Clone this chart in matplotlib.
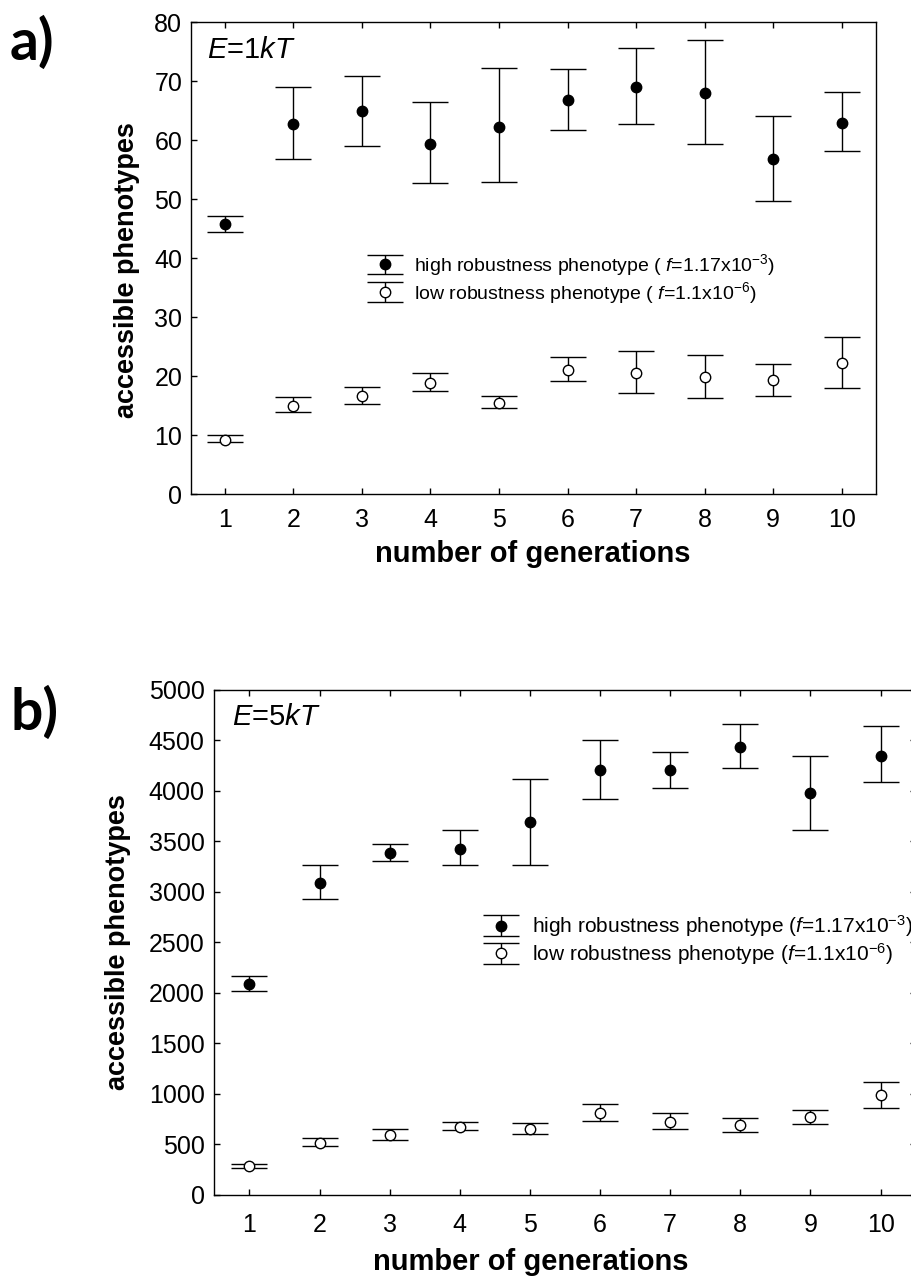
import matplotlib
matplotlib.use('Agg')
import matplotlib.pyplot as plt

plt.rcParams['font.family'] = ['Liberation Sans', 'DejaVu Sans']
plt.rcParams['mathtext.fontset'] = 'custom'
plt.rcParams['mathtext.rm'] = 'Liberation Sans'
plt.rcParams['mathtext.it'] = 'Liberation Sans:italic'
plt.rcParams['mathtext.bf'] = 'Liberation Sans:bold'

generations = [1, 2, 3, 4, 5, 6, 7, 8, 9, 10]

# Panel a (E = 1kT)
a_high = [45.8, 62.8, 64.9, 59.3, 62.3, 66.8, 69.0, 68.1, 56.8, 63.0]
a_high_lo = [44.5, 56.9, 59.0, 52.7, 52.9, 61.8, 62.8, 59.4, 49.8, 58.2]
a_high_hi = [47.1, 69.1, 70.9, 66.5, 72.2, 72.1, 75.6, 77.0, 64.1, 68.2]
a_low = [9.2, 15.0, 16.7, 18.9, 15.4, 21.0, 20.6, 19.9, 19.3, 22.3]
a_low_lo = [8.8, 13.9, 15.3, 17.5, 14.6, 19.2, 17.2, 16.3, 16.6, 18.1]
a_low_hi = [10.0, 16.5, 18.2, 20.5, 16.6, 23.2, 24.3, 23.7, 22.1, 26.7]

# Panel b (E = 5kT)
b_high = [2085, 3085, 3390, 3430, 3690, 4205, 4205, 4440, 3980, 4350]
b_high_lo = [2020, 2935, 3310, 3270, 3270, 3920, 4030, 4225, 3610, 4090]
b_high_hi = [2170, 3265, 3475, 3610, 4120, 4505, 4385, 4665, 4350, 4640]
b_low = [285, 515, 595, 675, 650, 810, 725, 690, 770, 985]
b_low_lo = [265, 480, 545, 640, 600, 730, 655, 625, 705, 860]
b_low_hi = [305, 565, 655, 720, 710, 905, 815, 765, 840, 1115]

a_yticks = [0, 10, 20, 30, 40, 50, 60, 70, 80]
b_yticks = [0, 500, 1000, 1500, 2000, 2500, 3000, 3500, 4000, 4500, 5000]

a_labels = ['high robustness phenotype ( $f$=1.17x10$^{-3}$)',
            'low robustness phenotype ( $f$=1.1x10$^{-6}$)']
b_labels = ['high robustness phenotype ($f$=1.17x10$^{-3}$)',
            'low robustness phenotype ($f$=1.1x10$^{-6}$)']

fig = plt.figure(figsize=(9.12, 12.86), dpi=100)
axA = fig.add_axes([0.209, 0.6156, 0.7514, 0.3670])
axB = fig.add_axes([0.235, 0.0708, 0.7690, 0.3927])


def err(v, lo, hi):
    return [[a - b for a, b in zip(v, lo)], [b - a for a, b in zip(v, hi)]]


def draw(ax, high, hlo, hhi, low, llo, lhi, yticks, labels, right_ticks,
         legend_xy, leg_fs, ann, ann_xy, xpad, ypad):
    h1 = ax.errorbar(generations, high, yerr=err(high, hlo, hhi), fmt='o',
                     color='black', ms=7.5, capsize=13, elinewidth=1,
                     capthick=1, label=labels[0])
    h2 = ax.errorbar(generations, low, yerr=err(low, llo, lhi), fmt='o',
                     color='black', mfc='white', mec='black', mew=1, ms=7.5,
                     capsize=13, elinewidth=1, capthick=1, label=labels[1])
    ax.set_xlim(0.5, 10.5)
    ax.set_ylim(yticks[0], yticks[-1])
    ax.set_xticks(generations)
    ax.set_yticks(yticks)
    ax.tick_params(direction='in', top=True, right=right_ticks, length=4,
                   width=1, labelsize=18)
    ax.tick_params(axis='x', pad=xpad)
    ax.tick_params(axis='y', pad=ypad)
    for s in ax.spines.values():
        s.set_linewidth(1)
    ax.legend(handles=[h1, h2], loc='upper left', bbox_to_anchor=legend_xy,
              frameon=False, fontsize=leg_fs, borderaxespad=0, borderpad=0,
              handlelength=1.75, handletextpad=0.6, labelspacing=0.08)
    ax.text(ann_xy[0], ann_xy[1], ann, transform=ax.transAxes, fontsize=21,
            va='center', ha='left')


draw(axA, a_high, a_high_lo, a_high_hi, a_low, a_low_lo, a_low_hi, a_yticks,
     a_labels, False, (0.259, 0.513), 14, '$E$=1$kT$', (0.024, 0.941), 10, 6)
draw(axB, b_high, b_high_lo, b_high_hi, b_low, b_low_lo, b_low_hi, b_yticks,
     b_labels, True, (0.383, 0.558), 15, '$E$=5$kT$', (0.025, 0.946), 13, 7)

fig.text(0.139, 0.790, 'accessible phenotypes', rotation=90, fontsize=19.5,
         fontweight='bold', ha='center', va='center')
fig.text(0.129, 0.2675, 'accessible phenotypes', rotation=90, fontsize=19.5,
         fontweight='bold', ha='center', va='center')
fig.text(0.5846, 0.569, 'number of generations', fontsize=21,
         fontweight='bold', ha='center', va='center')
fig.text(0.582, 0.0187, 'number of generations', fontsize=21,
         fontweight='bold', ha='center', va='center')

fig.text(0.011, 0.967, 'a)', fontsize=41, fontweight='bold',
         family=['Lato', 'DejaVu Sans'], ha='left', va='center')
fig.text(0.011, 0.4456, 'b)', fontsize=41, fontweight='bold',
         family=['Lato', 'DejaVu Sans'], ha='left', va='center')

fig.savefig('out.png', dpi=100)
